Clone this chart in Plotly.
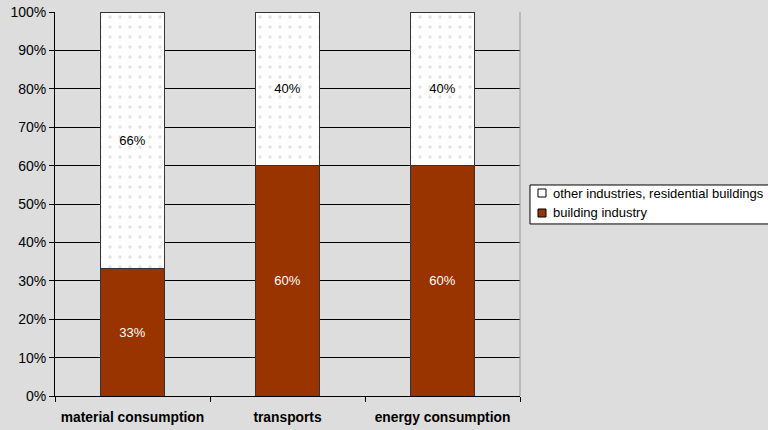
import plotly.graph_objects as go

categories = ["material consumption", "transports", "energy consumption"]
building = [33.3, 60, 60]
other = [66.7, 40, 40]
building_labels = ["33%", "60%", "60%"]
other_labels = ["66%", "40%", "40%"]
series_names = ["other industries, residential buildings", "building industry"]
series_colors = ["white", "#993300"]
y_ticks = [0, 10, 20, 30, 40, 50, 60, 70, 80, 90, 100]
y_tick_labels = [f"{v}%" for v in y_ticks]

fig = go.Figure()
fig.add_trace(go.Bar(
    x=categories, y=building, name=series_names[1],
    text=building_labels, textposition="inside", insidetextanchor="middle",
    textangle=0, textfont=dict(color="white", size=13, family="Arial"),
    marker=dict(color=series_colors[1], line=dict(color="#333333", width=1)),
    hoverinfo="skip",
))
fig.add_trace(go.Bar(
    x=categories, y=other, name=series_names[0],
    text=other_labels, textposition="inside", insidetextanchor="middle",
    textangle=0, textfont=dict(color="black", size=13, family="Arial"),
    marker=dict(color=series_colors[0], line=dict(color="#333333", width=1),
                pattern=dict(shape=".", fgcolor="#c8c8c8", bgcolor="white", size=10, solidity=0.1)),
    hoverinfo="skip",
))

fig.update_layout(
    width=768, height=430,
    barmode="stack", bargap=0.59,
    paper_bgcolor="#dddddd", plot_bgcolor="#dddddd",
    margin=dict(l=55, r=248, t=12, b=34, autoexpand=False),
    font=dict(family="Arial", size=13, color="black"),
    showlegend=False,
)
fig.update_yaxes(
    range=[0, 100], tickvals=y_ticks, ticktext=y_tick_labels,
    showgrid=True, gridcolor="black", gridwidth=1,
    showline=True, linecolor="black", linewidth=1,
    ticks="outside", ticklen=5, tickcolor="black",
    tickfont=dict(size=14), zeroline=False, fixedrange=True, automargin=False,
    ticklabeloverflow="allow",
)
fig.update_xaxes(
    showline=True, linecolor="black", linewidth=1,
    ticks="outside", ticklen=5, tickcolor="black", tickson="boundaries",
    tickfont=dict(size=13.8, family="Arial", weight="bold"),
    ticklabelstandoff=8, ticklabeloverflow="allow",
    showgrid=False, automargin=False, fixedrange=True,
)
# right border of plot area
fig.add_shape(type="line", xref="paper", yref="paper", x0=1, x1=1, y0=0, y1=1,
              line=dict(color="#999999", width=1))

# custom legend (box, swatches, labels)
fig.add_shape(type="rect", xref="paper", yref="paper", x0=1.0215, x1=1.56, y0=0.448, y1=0.5495,
              fillcolor="white", line=dict(color="black", width=1), layer="above")
sw_y = [(0.5182, 0.5391), (0.4661, 0.4870)]
txt_y = [0.5286, 0.4766]
for name, color, (y0, y1), ty in zip(series_names, series_colors, sw_y, txt_y):
    fig.add_shape(type="rect", xref="paper", yref="paper", x0=1.0387, x1=1.0559, y0=y0, y1=y1,
                  fillcolor=color, line=dict(color="black", width=1), layer="above")
    fig.add_annotation(text=name, xref="paper", yref="paper", x=1.0667, y=ty,
                       xanchor="left", yanchor="middle", showarrow=False,
                       font=dict(size=13, family="Arial", color="black"))

fig.write_html(
    "out.html",
    config={"displayModeBar": False},
    post_script="document.body.style.margin='0';document.body.style.background='#dddddd';",
)
